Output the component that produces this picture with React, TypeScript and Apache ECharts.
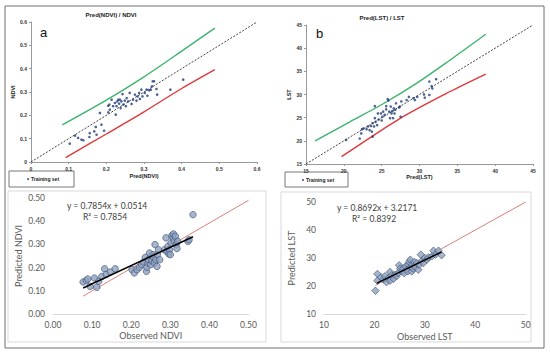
import React, { useEffect, useRef } from "react";
import * as echarts from "echarts";

// Panel a: Pred(NDVI) vs NDVI (training set)
const ndviTrain: number[][] = [
  [0.103, 0.079], [0.117, 0.113], [0.125, 0.103], [0.134, 0.096], [0.139, 0.093],
  [0.155, 0.107], [0.156, 0.124], [0.168, 0.131], [0.172, 0.15], [0.174, 0.117],
  [0.183, 0.21], [0.187, 0.16], [0.194, 0.134], [0.205, 0.213], [0.205, 0.241],
  [0.208, 0.246], [0.209, 0.224], [0.214, 0.267], [0.218, 0.239], [0.223, 0.253],
  [0.225, 0.203], [0.227, 0.239], [0.229, 0.26], [0.232, 0.267], [0.234, 0.25],
  [0.236, 0.267], [0.238, 0.231], [0.24, 0.26], [0.243, 0.291], [0.245, 0.246],
  [0.249, 0.263], [0.252, 0.239], [0.254, 0.274], [0.258, 0.26], [0.262, 0.296],
  [0.267, 0.249], [0.271, 0.267], [0.276, 0.289], [0.28, 0.263], [0.283, 0.281],
  [0.287, 0.296], [0.289, 0.27], [0.293, 0.31], [0.296, 0.281], [0.302, 0.296],
  [0.307, 0.31], [0.309, 0.284], [0.314, 0.307], [0.318, 0.31], [0.321, 0.324],
  [0.323, 0.346], [0.327, 0.346], [0.333, 0.313], [0.335, 0.289], [0.37, 0.31],
  [0.404, 0.353],
];
const ndviDiag: number[][] = [[0, 0], [0.6, 0.6]];
const ndviUpper: number[][] = [[0.083, 0.159], [0.2, 0.265], [0.3, 0.365], [0.4, 0.475], [0.488, 0.574]];
const ndviLower: number[][] = [[0.092, 0.019], [0.2, 0.12], [0.3, 0.215], [0.4, 0.315], [0.488, 0.396]];

// Panel b: Pred(LST) vs LST (training set)
const lstTrain: number[][] = [
  [20.3, 20.2], [22.1, 20.5], [22.3, 21.6], [22.4, 22.5], [22.6, 22.7], [23.0, 22.5],
  [23.2, 23.1], [23.4, 22.3], [23.6, 23.2], [23.7, 22.0], [23.8, 20.9], [23.8, 23.8],
  [24.0, 23.1], [24.1, 27.5], [24.1, 24.9], [24.2, 24.1], [24.4, 23.4], [24.5, 25.9],
  [24.6, 24.6], [24.9, 25.9], [25.0, 24.4], [25.1, 25.2], [25.2, 26.3], [25.4, 25.6],
  [25.6, 26.8], [25.6, 27.5], [25.8, 29.0], [25.9, 28.7], [26.0, 26.3], [26.1, 24.9],
  [26.2, 27.4], [26.3, 25.9], [26.4, 26.4], [26.5, 24.9], [26.6, 27.0], [26.7, 25.9],
  [26.8, 26.7], [26.9, 28.1], [27.3, 27.2], [27.4, 27.4], [27.5, 25.2], [27.6, 28.5],
  [28.3, 28.8], [28.6, 29.5], [29.2, 29.2], [29.4, 28.8], [29.7, 29.5], [30.6, 30.0],
  [30.7, 29.3], [31.3, 29.9], [31.3, 32.8], [31.6, 31.8], [31.7, 31.3], [32.2, 33.3],
];
const lstDiag: number[][] = [[15, 15], [45, 45]];
const lstUpper: number[][] = [[16.2, 20.0], [20.8, 24.1], [25.2, 28.0], [29.6, 32.4], [34.0, 37.4], [38.76, 43.0]];
const lstLower: number[][] = [[19.7, 16.6], [21.0, 18.0], [27.4, 24.8], [34.0, 30.6], [38.76, 34.4]];

// Panel c: Observed vs Predicted NDVI
const ndviObsPred: number[][] = [
  [0.077, 0.138], [0.085, 0.144], [0.089, 0.151], [0.095, 0.119], [0.106, 0.155],
  [0.112, 0.115], [0.117, 0.141], [0.125, 0.162], [0.132, 0.195], [0.136, 0.17],
  [0.147, 0.181], [0.159, 0.195], [0.202, 0.191], [0.208, 0.177], [0.215, 0.191],
  [0.221, 0.201], [0.227, 0.213], [0.232, 0.224], [0.236, 0.244], [0.239, 0.184],
  [0.24, 0.201], [0.243, 0.22], [0.244, 0.234], [0.247, 0.263], [0.25, 0.213],
  [0.253, 0.23], [0.256, 0.256], [0.257, 0.244], [0.259, 0.22], [0.261, 0.299],
  [0.263, 0.234], [0.266, 0.205], [0.267, 0.256], [0.27, 0.277], [0.273, 0.234],
  [0.285, 0.277], [0.289, 0.328], [0.291, 0.27], [0.294, 0.292], [0.296, 0.259],
  [0.298, 0.277], [0.3, 0.256], [0.302, 0.306], [0.304, 0.338], [0.307, 0.328],
  [0.308, 0.345], [0.31, 0.313], [0.313, 0.335], [0.315, 0.299], [0.317, 0.282],
  [0.319, 0.313], [0.345, 0.313], [0.348, 0.32], [0.358, 0.428],
];
const ndviFitLine: number[][] = [[0.077, 0.112], [0.358, 0.333]];
const ndviOneToOne: number[][] = [[0.077, 0.077], [0.5, 0.49]];

// Panel d: Observed vs Predicted LST
const lstObsPred: number[][] = [
  [20.2, 18.3], [20.6, 24.3], [20.6, 21.9], [21.3, 23.1], [21.8, 22.3], [22.1, 23.5],
  [22.4, 21.4], [22.8, 22.9], [23.1, 25.0], [23.1, 21.9], [23.4, 23.8], [23.8, 22.6],
  [24.1, 24.0], [24.4, 23.5], [24.7, 24.6], [24.9, 27.4], [25.1, 26.2], [25.4, 25.2],
  [25.7, 26.2], [25.9, 24.6], [26.2, 27.0], [26.4, 25.8], [26.6, 25.2], [26.7, 27.6],
  [26.9, 28.6], [27.1, 29.4], [27.2, 26.7], [27.4, 25.2], [27.5, 27.6], [27.7, 26.2],
  [27.9, 28.6], [28.0, 27.0], [28.4, 28.2], [28.7, 25.8], [28.9, 27.6], [29.2, 31.2],
  [29.4, 29.0], [29.7, 28.2], [30.0, 30.0], [30.4, 29.4], [30.7, 30.2], [31.4, 30.6],
  [31.7, 32.6], [32.1, 31.2], [32.7, 32.6], [33.3, 31.0],
];
const lstFitLine: number[][] = [[20.5, 21.04], [33.3, 32.16]];
const lstOneToOne: number[][] = [[20.2, 20.2], [50, 50]];

const titleA = "Pred(NDVI) / NDVI";
const titleB = "Pred(LST) / LST";
const eqNdvi = "y = 0.7854x + 0.0514";
const r2Ndvi = "R² = 0.7854";
const eqLst = "y = 0.8692x + 3.2171";
const r2Lst = "R² = 0.8392";

const TOP_FONT = "'Liberation Sans', Arial, sans-serif";
const BOT_FONT = "Lato, 'Open Sans', sans-serif";
const GREEN = "#3cb46e";
const RED = "#e0383a";
const DOT = "#1f3c78";

function topAxes(gridIndex: number, min: number, max: number, interval: number, xName: string, yName: string, xGap: number, yGap: number) {
  const label = {
    fontSize: 5,
    fontWeight: "bold" as const,
    color: "#333",
    fontFamily: TOP_FONT,
  };
  const axisLine = { show: true, lineStyle: { color: "#999", width: 1 } };
  const axisTick = { show: true, length: 2, lineStyle: { color: "#999" } };
  const nameTextStyle = { fontSize: 5.5, fontWeight: "bold" as const, color: "#222", fontFamily: TOP_FONT };
  return {
    x: {
      type: "value", gridIndex, min, max, interval,
      axisLine, axisTick, axisLabel: { ...label, margin: 4, formatter: (v: number) => String(v) },
      splitLine: { show: false },
      name: xName, nameLocation: "middle", nameGap: xGap, nameTextStyle,
    },
    y: {
      type: "value", gridIndex, min, max, interval,
      axisLine, axisTick, axisLabel: { ...label, margin: 4, formatter: (v: number) => String(v) },
      splitLine: { show: false },
      name: yName, nameLocation: "middle", nameGap: yGap, nameTextStyle,
    },
  };
}

function botAxes(gridIndex: number, min: number, max: number, interval: number, digits: number, xName: string, yName: string, xGap: number, yGap: number) {
  const label = { fontSize: 8.5, color: "#595959", fontFamily: BOT_FONT };
  const nameTextStyle = { fontSize: 9, color: "#595959", fontFamily: BOT_FONT };
  return {
    x: {
      type: "value", gridIndex, min, max, interval,
      axisLine: { show: true, lineStyle: { color: "#d9d9d9", width: 1 } },
      axisTick: { show: false },
      axisLabel: { ...label, margin: 6, formatter: (v: number) => v.toFixed(digits) },
      splitLine: { show: false },
      name: xName, nameLocation: "middle", nameGap: xGap, nameTextStyle,
    },
    y: {
      type: "value", gridIndex, min, max, interval,
      axisLine: { show: false },
      axisTick: { show: false },
      axisLabel: { ...label, margin: 8, formatter: (v: number) => v.toFixed(digits) },
      splitLine: { show: false },
      name: yName, nameLocation: "middle", nameGap: yGap, nameTextStyle,
    },
  };
}

export default function App() {
  const ref = useRef<HTMLDivElement>(null);
  useEffect(() => {
    if (!ref.current) return;
    const chart = echarts.init(ref.current, undefined, { renderer: "svg" });
    const a = topAxes(0, 0, 0.6, 0.1, "Pred(NDVI)", "NDVI", 11, 13);
    const b = topAxes(1, 15, 45, 5, "Pred(LST)", "LST", 10, 14);
    const c = botAxes(2, 0, 0.5, 0.1, 2, "Observed NDVI", "Predicted NDVI", 17, 30);
    const d = botAxes(3, 10, 50, 10, 0, "Observed LST", "Predicted LST", 18, 28);

    const trainSeries = (xi: number, data: number[][]) => ({
      type: "scatter", xAxisIndex: xi, yAxisIndex: xi, data,
      symbol: "circle", symbolSize: 2.6, itemStyle: { color: DOT }, z: 5,
    });
    const lineSeries = (xi: number, data: number[][], color: string, width: number, dashed: boolean, smooth: boolean | number) => ({
      type: "line", xAxisIndex: xi, yAxisIndex: xi, data, showSymbol: false, symbol: "none",
      smooth, lineStyle: { color, width, type: dashed ? [2, 1.5] : "solid" }, z: 3,
    });
    const obsSeries = (xi: number, data: number[][], symbol: string, size: number) => ({
      type: "scatter", xAxisIndex: xi, yAxisIndex: xi, data, symbol, symbolSize: size,
      itemStyle: { color: "#8fa3c2", borderColor: "#3e4f6e", borderWidth: 0.8 }, z: 3,
    });

    const option: any = {
      animation: false,
      backgroundColor: "#ffffff",
      grid: [
        { left: 31, top: 22, width: 226, height: 140 },
        { left: 306, top: 25, width: 227, height: 139 },
        { left: 53, top: 198, width: 195.5, height: 116 },
        { left: 324, top: 202, width: 201.7, height: 112 },
      ],
      xAxis: [a.x, b.x, c.x, d.x],
      yAxis: [a.y, b.y, c.y, d.y],
      series: [
        lineSeries(0, ndviDiag, "#111", 0.8, true, false),
        lineSeries(0, ndviUpper, GREEN, 1.4, false, 0.3),
        lineSeries(0, ndviLower, RED, 1.4, false, 0.3),
        trainSeries(0, ndviTrain),
        lineSeries(1, lstDiag, "#111", 0.8, true, false),
        lineSeries(1, lstUpper, GREEN, 1.4, false, 0.3),
        lineSeries(1, lstLower, RED, 1.4, false, 0.3),
        trainSeries(1, lstTrain),
        lineSeries(2, ndviOneToOne, "#d9807c", 1, false, false),
        obsSeries(2, ndviObsPred, "circle", 6.5),
        { ...lineSeries(2, ndviFitLine, "#000", 1.5, false, false), z: 6 },
        lineSeries(3, lstOneToOne, "#d9807c", 1, false, false),
        obsSeries(3, lstObsPred, "diamond", 7.5),
        { ...lineSeries(3, lstFitLine, "#000", 1.5, false, false), z: 6 },
      ],
      graphic: [
        { type: "rect", shape: { x: 5, y: 6, width: 539, height: 342 }, style: { fill: "none", stroke: "#6e6e6e", lineWidth: 1 } },
        { type: "rect", shape: { x: 8, y: 191, width: 258, height: 151 }, style: { fill: "none", stroke: "#d9d9d9", lineWidth: 1 } },
        { type: "rect", shape: { x: 281, y: 192, width: 250, height: 150 }, style: { fill: "none", stroke: "#d9d9d9", lineWidth: 1 } },
        { type: "text", x: 111, y: 15, style: { text: titleA, fontSize: 6, fontWeight: "bold", fill: "#222", fontFamily: TOP_FONT, align: "center", verticalAlign: "middle" } },
        { type: "text", x: 382, y: 18, style: { text: titleB, fontSize: 6, fontWeight: "bold", fill: "#222", fontFamily: TOP_FONT, align: "center", verticalAlign: "middle" } },
        { type: "text", x: 40, y: 32, style: { text: "a", fontSize: 13, fill: "#111", fontFamily: TOP_FONT, verticalAlign: "middle" } },
        { type: "text", x: 316, y: 33, style: { text: "b", fontSize: 13, fill: "#111", fontFamily: TOP_FONT, verticalAlign: "middle" } },
        { type: "rect", shape: { x: 9, y: 171, width: 65, height: 16 }, style: { fill: "#fff", stroke: "#555", lineWidth: 0.8 } },
        { type: "circle", shape: { cx: 28, cy: 179, r: 0.9 }, style: { fill: DOT } },
        { type: "text", x: 31, y: 179, style: { text: "Training set", fontSize: 5, fontWeight: "bold", fill: "#222", fontFamily: TOP_FONT, verticalAlign: "middle" } },
        { type: "rect", shape: { x: 285, y: 172, width: 63, height: 15 }, style: { fill: "#fff", stroke: "#555", lineWidth: 0.8 } },
        { type: "circle", shape: { cx: 303, cy: 180, r: 0.9 }, style: { fill: DOT } },
        { type: "text", x: 306, y: 180, style: { text: "Training set", fontSize: 5, fontWeight: "bold", fill: "#222", fontFamily: TOP_FONT, verticalAlign: "middle" } },
        { type: "text", x: 67, y: 206, style: { text: eqNdvi, fontSize: 8.5, fill: "#404040", fontFamily: BOT_FONT, verticalAlign: "middle" } },
        { type: "text", x: 83, y: 217, style: { text: r2Ndvi, fontSize: 8.5, fill: "#404040", fontFamily: BOT_FONT, verticalAlign: "middle" } },
        { type: "text", x: 337, y: 208, style: { text: eqLst, fontSize: 8.5, fill: "#404040", fontFamily: BOT_FONT, verticalAlign: "middle" } },
        { type: "text", x: 352, y: 219, style: { text: r2Lst, fontSize: 8.5, fill: "#404040", fontFamily: BOT_FONT, verticalAlign: "middle" } },
      ],
    };
    chart.setOption(option);
    return () => chart.dispose();
  }, []);
  return (
    <div
      ref={ref}
      style={{ position: "fixed", left: 0, top: 0, width: 550, height: 358, background: "#fff" }}
    />
  );
}
